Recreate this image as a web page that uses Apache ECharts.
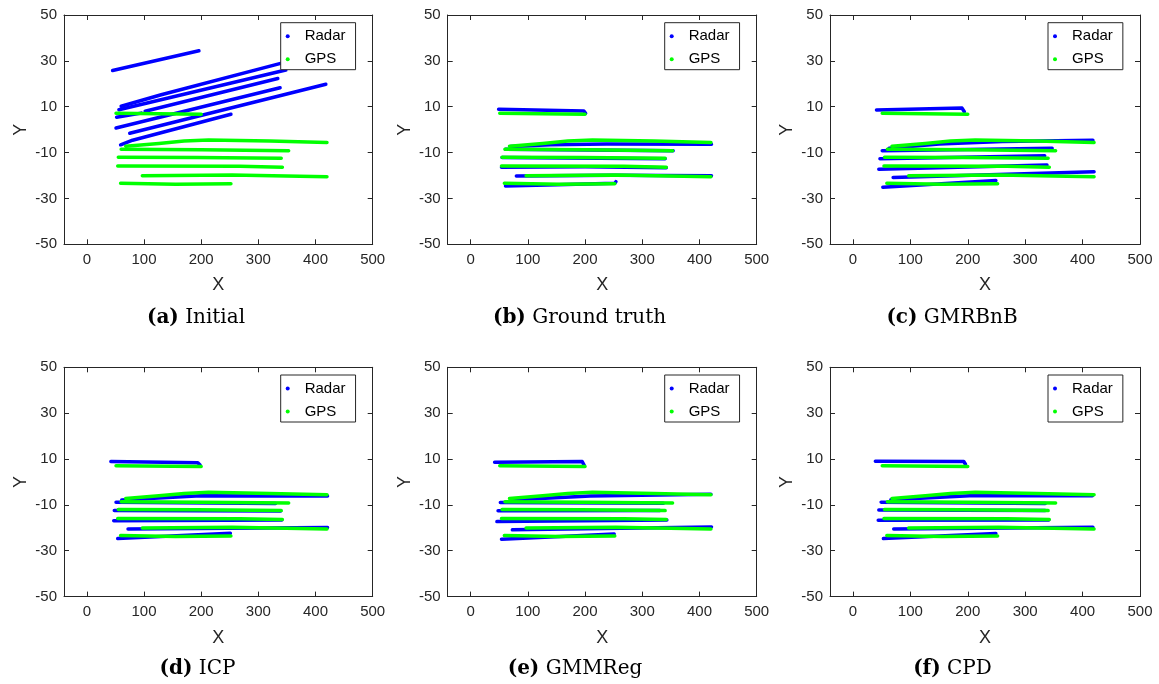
<!DOCTYPE html>
<html>
<head>
<meta charset="utf-8">
<script src="https://cdn.jsdelivr.net/npm/echarts@6/dist/echarts.min.js"></script>
<style>
  html, body { margin: 0; padding: 0; background: #fff; }
  #main { width: 1159px; height: 684px; }
</style>
</head>
<body>
<div id="main"></div>
<script>
// tick labels
const xTicks = [0, 100, 200, 300, 400, 500];
const yTicks = [-50, -30, -10, 10, 30, 50];

// subfigure captions
const captionTags = ['(a)', '(b)', '(c)', '(d)', '(e)', '(f)'];
const captionNames = ['Initial', 'Ground truth', 'GMRBnB', 'ICP', 'GMMReg', 'CPD'];

// GPS tracks, same in every panel: [x, y] points per track
const gpsTracks = [
  [[51, 7.1], [200, 6.7]],
  [[68, -7.2], [126, -6.0], [170, -5.0], [213, -4.5], [320, -5.0], [420, -5.6]],
  [[60, -8.6], [200, -8.8], [353, -9.2]],
  [[55, -12.0], [193, -12.1], [195, -12.5], [340, -12.5]],
  [[54, -15.9], [268, -16.0], [270, -16.4], [342, -16.4]],
  [[97, -20.1], [254, -19.8], [420, -20.5]],
  [[59, -23.4], [155, -23.8], [252, -23.6]]
];

// radar tracks, one list per panel
const radarInitial = [
  [[45, 25.8], [196, 34.4]],
  [[60, 10.2], [130, 15.2], [339, 28.9], [420, 33.5]],
  [[56, 8.7], [348, 26.0]],
  [[102, 8.0], [334, 22.3]],
  [[52, 5.4], [95, 7.2]],
  [[51, 0.7], [338, 18.3]],
  [[75, -1.6], [418, 19.8]],
  [[59, -6.6], [80, -4.6], [252, 6.7]]
];
const radarTruth = [
  [[49, 8.9], [198, 8.1], [201, 7.1]],
  [[70, -7.4], [140, -6.6], [238, -6.3], [421, -6.4]],
  [[61, -8.6], [354, -9.2]],
  [[55, -12.1], [340, -12.7]],
  [[54, -16.4], [200, -16.2], [342, -16.6]],
  [[80, -20.2], [250, -19.9], [421, -20.1]],
  [[61, -24.6], [150, -24.0], [252, -23.4], [254, -22.7]]
];
const radarGMRBnB = [
  [[41, 8.6], [190, 9.4], [194, 7.8]],
  [[63, -8.1], [150, -6.3], [260, -5.2], [418, -4.6]],
  [[51, -9.2], [347, -8.1]],
  [[47, -12.7], [334, -11.4]],
  [[45, -17.3], [338, -15.4]],
  [[70, -20.9], [420, -18.4]],
  [[52, -25.1], [249, -22.2]]
];
const radarICP = [
  [[42, 8.9], [194, 8.4], [198, 7.4]],
  [[61, -7.9], [199, -6.0], [421, -6.1]],
  [[51, -8.9], [330, -9.4]],
  [[48, -12.4], [339, -12.7]],
  [[47, -16.9], [341, -16.6]],
  [[72, -20.5], [421, -19.9]],
  [[54, -24.7], [251, -22.4]]
];
const radarGMMReg = [
  [[42, 8.6], [195, 8.9], [199, 7.0]],
  [[70, -7.9], [209, -6.1], [420, -5.4]],
  [[52, -9.0], [337, -9.3]],
  [[48, -12.6], [331, -12.5]],
  [[46, -17.3], [343, -16.6]],
  [[73, -20.9], [421, -19.6]],
  [[54, -25.0], [251, -22.7]]
];
const radarCPD = [
  [[39, 9.0], [193, 8.9], [196, 7.7]],
  [[66, -7.8], [203, -6.0], [417, -6.0]],
  [[49, -8.8], [335, -9.4]],
  [[45, -12.2], [335, -12.5]],
  [[44, -16.7], [341, -16.6]],
  [[71, -20.5], [418, -19.8]],
  [[53, -24.7], [249, -22.5]]
];
const radarPanels = [radarInitial, radarTruth, radarGMRBnB, radarICP, radarGMMReg, radarCPD];

// layout of the 2x3 grid (px)
const colLeft = [64, 447.7, 830];
const colWidth = [308.7, 309, 310];
const rowTop = [15, 367.3];
const plotHeight = 229.3;
const captionX = [196, 579.5, 952, 197.5, 575, 952.5];
const captionY = [318, 669];

const axisColor = '#262626';
const sans = "'Liberation Sans', Arial, sans-serif";
const serif = "'DejaVu Serif', serif";

const grid = [], xAxis = [], yAxis = [], legend = [], series = [], graphic = [];

function frameAxis(kind, gi, pos, main) {
  const isX = kind === 'x';
  const ax = {
    type: 'value',
    gridIndex: gi,
    position: pos,
    min: isX ? -40 : -50,
    max: isX ? 500 : 50,
    axisLine: { show: true, onZero: false, lineStyle: { color: axisColor, width: 1 } },
    axisTick: { show: true, inside: true, length: 5, customValues: isX ? xTicks : yTicks,
      lineStyle: { color: axisColor } },
    axisLabel: { show: main, customValues: isX ? xTicks : yTicks, color: axisColor,
      fontSize: 15, fontFamily: sans, margin: isX ? 8 : 7 },
    splitLine: { show: false }
  };
  if (main) {
    ax.name = isX ? 'X' : 'Y';
    ax.nameLocation = 'middle';
    ax.nameGap = isX ? 32 : 34;
    ax.nameTextStyle = { color: axisColor, fontSize: 18, fontFamily: sans };
  }
  return ax;
}

for (let i = 0; i < 6; i++) {
  const c = i % 3, r = Math.floor(i / 3);
  grid.push({ left: colLeft[c], top: rowTop[r], width: colWidth[c], height: plotHeight, containLabel: false });

  // bottom/left carry labels, top/right only close the box
  xAxis.push(frameAxis('x', i, 'bottom', true));
  xAxis.push(frameAxis('x', i, 'top', false));
  yAxis.push(frameAxis('y', i, 'left', true));
  yAxis.push(frameAxis('y', i, 'right', false));

  legend.push({
    data: ['Radar', 'GPS'],
    orient: 'vertical',
    left: colLeft[c] + colWidth[c] - 92,
    top: rowTop[r] + 7.7,
    icon: 'circle',
    itemWidth: 24,
    itemHeight: 4,
    itemGap: 8,
    padding: [6, 10, 3, 5],
    backgroundColor: '#fff',
    borderColor: axisColor,
    borderWidth: 1,
    borderRadius: 0,
    selectedMode: false,
    textStyle: { color: '#000', fontSize: 15, fontFamily: sans }
  });

  const addTracks = (tracks, name, color) => {
    tracks.forEach(t => series.push({
      name: name,
      type: 'line',
      xAxisIndex: 2 * i,
      yAxisIndex: 2 * i,
      data: t,
      symbol: 'none',
      silent: true,
      itemStyle: { color: color },
      lineStyle: { color: color, width: 3.5, cap: 'round', join: 'round' }
    }));
  };
  addTracks(radarPanels[i], 'Radar', '#0000ff');
  addTracks(gpsTracks, 'GPS', '#00ff00');

  graphic.push({
    type: 'text',
    x: captionX[i],
    y: captionY[r],
    style: {
      text: '{b|' + captionTags[i] + '} ' + captionNames[i],
      align: 'center', textAlign: 'center',
      verticalAlign: 'middle', textVerticalAlign: 'middle',
      fontSize: 20, fontFamily: serif, fill: '#000',
      rich: { b: { fontWeight: 'bold', fontSize: 20, fontFamily: serif, fill: '#000' } }
    }
  });
}

const myChart = echarts.init(document.getElementById('main'), null, { renderer: 'canvas' });
myChart.setOption({
  animation: false,
  backgroundColor: '#fff',
  grid, xAxis, yAxis, legend, series, graphic
});
</script>
</body>
</html>
